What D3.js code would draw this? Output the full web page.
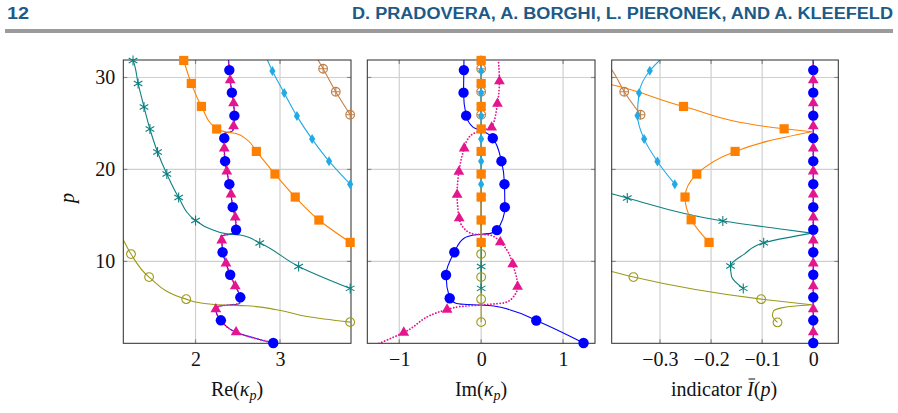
<!DOCTYPE html>
<html>
<head>
<meta charset="utf-8">
<script src="https://cdn.jsdelivr.net/npm/d3@7"></script>
<style>
  body { margin: 0; background: #fff; }
  svg { display: block; }
</style>
</head>
<body>
<div id="chart"></div>
<script>
// Each knot is [p, value, flag]; flag 1 = marker drawn here, flag 2 = cusp (line split)
const pDomain = [1.1, 31.9];
const pTicks = [10, 20, 30];

// ---- Re(kappa_p) ----
const reBlue = [[1.13,2.92,1],[2.3,2.48],[3.6,2.30,1],[4.8,2.24],[5.15,2.28],[5.3,2.45],[5.45,2.52],[6.1,2.53,1],[7.3,2.47],[8.55,2.41,1],[9.8,2.36],[11.0,2.32,1],[12.3,2.31],[12.75,2.30],[12.95,2.40],[13.1,2.46],[13.45,2.48,1],[14.8,2.47],[15.9,2.44,1],[17.3,2.42],[18.4,2.40,1],[19.8,2.37],[20.9,2.35,1],[22.3,2.34],[23.4,2.34,1],[23.95,2.35],[24.05,2.40],[24.2,2.44],[24.7,2.45],[25.85,2.46,1],[27.2,2.45],[28.35,2.43,1],[29.7,2.41],[30.8,2.40,1],[31.9,2.39]];
const reMagenta = [[1.13,2.92],[2.3,2.48,1],[3.6,2.30],[4.8,2.24,1],[5.15,2.28],[5.3,2.45],[5.45,2.52],[6.1,2.53],[7.3,2.47,1],[8.55,2.41],[9.8,2.36,1],[11.0,2.32],[12.3,2.31,1],[12.75,2.30],[12.95,2.40],[13.1,2.46],[13.45,2.48],[14.8,2.47,1],[15.9,2.44],[17.3,2.42,1],[18.4,2.40],[19.8,2.37,1],[20.9,2.35],[22.3,2.34,1],[23.4,2.34],[23.95,2.35],[24.05,2.40],[24.2,2.44],[24.7,2.45,1],[25.85,2.46],[27.2,2.45,1],[28.35,2.43],[29.7,2.41,1],[30.8,2.40],[31.9,2.39]];
const reOlive = [[3.4,3.83,1],[4.02,3.32],[4.75,2.96],[5.18,2.60],[5.26,2.33],[5.5,2.05],[5.9,1.89,1],[8.3,1.45,1],[10.8,1.236,1],[12.25,1.15],[13.0,1.10]];
const reTeal = [[7.07,3.83,1],[9.46,3.22,1],[12.0,2.76,1],[12.87,2.53],[13.0,2.37],[13.55,2.17],[14.46,2.0,1],[16.96,1.80,1],[19.5,1.66,1],[21.9,1.55,1],[24.4,1.46,1],[26.8,1.39,1],[29.35,1.32,1],[31.85,1.26,1],[31.95,1.25]];
const reBrown = [[25.95,3.83,1],[28.45,3.66,1],[30.95,3.51,1],[31.9,3.45]];
const reOrange = [[12.07,3.83,1],[14.5,3.46,1],[17.0,3.18,1],[19.5,2.94,1],[21.96,2.72,1],[23.3,2.60],[23.9,2.48],[24.05,2.38],[24.4,2.25,1],[26.85,2.07,1],[29.35,1.95,1],[31.85,1.86,1]];
const reCyan = [[18.4,3.83,1],[20.9,3.58,1],[23.3,3.38,1],[25.8,3.20,1],[28.3,3.05,1],[30.7,2.91,1],[31.9,2.85]];

// ---- Im(kappa_p) ----
const imBlue = [[1.13,1.25,1],[3.58,0.673,1],[4.72,0.356],[5.15,0.153],[5.26,-0.01],[5.34,-0.213],[5.49,-0.315],[6.0,-0.384,1],[8.53,-0.429,1],[11.0,-0.327,1],[12.5,-0.213],[12.87,-0.09],[13.05,0.112],[13.4,0.193,1],[15.9,0.289,1],[18.4,0.285,1],[20.9,0.248,1],[23.4,0.142,1],[24.1,0.04],[24.6,-0.1],[25.85,-0.183,1],[28.35,-0.215,1],[30.8,-0.211,1],[31.9,-0.21]];
const imMagenta = [[1.07,-1.25],[2.27,-0.945,1],[4.77,-0.416,1],[5.16,-0.173],[5.31,0.07],[5.49,0.275],[5.97,0.376],[7.25,0.445,1],[9.7,0.385,1],[11.24,0.315],[12.1,0.234,1],[12.87,0.112],[12.97,-0.09],[13.5,-0.2],[14.7,-0.268,1],[17.25,-0.293,1],[19.75,-0.272,1],[22.3,-0.207,1],[23.1,-0.176],[23.9,-0.094],[24.3,0.03],[24.58,0.128,1],[27.15,0.199,1],[29.6,0.223,1],[31.9,0.21]];
const imOlive = [[3.4,0,1],[5.9,0,1],[8.3,0,1],[10.8,0,1],[31.9,0]];
const imTeal = [[7.07,0,1],[9.46,0,1],[12.0,0,1],[14.46,0,1],[16.96,0,1],[19.5,0,1],[21.9,0,1],[24.4,0,1],[26.8,0,1],[29.35,0,1],[31.85,0,1],[31.95,0]];
const imBrown = [[25.95,0,1],[28.45,0,1],[30.95,0,1],[31.9,0]];
const imOrange = [[12.07,0,1],[14.5,0,1],[17.0,0,1],[19.5,0,1],[21.96,0,1],[24.4,0,1],[26.85,0,1],[29.35,0,1],[31.85,0,1],[31.95,0]];
const imCyan = [[18.4,0,1],[20.9,0,1],[23.3,0,1],[25.8,0,1],[28.3,0,1],[30.7,0,1],[31.9,0]];

// ---- indicator I(p) ----
const indBlue = [[1.13,0,1],[3.6,0,1],[6.1,0,1],[8.55,0,1],[11.0,0,1],[13.45,0,1],[15.9,0,1],[18.4,0,1],[20.9,0,1],[23.4,0,1],[25.85,0,1],[28.35,0,1],[30.8,0,1],[31.9,0]];
const indMagenta = [[1.1,0],[2.3,0,1],[4.8,0,1],[7.3,0,1],[9.8,0,1],[12.3,0,1],[14.8,0,1],[17.3,0,1],[19.8,0,1],[22.3,0,1],[24.7,0,1],[27.2,0,1],[29.7,0,1],[31.9,0]];
const indOlive = [[3.37,-0.07,1],[3.7,-0.076],[4.1,-0.08],[4.6,-0.078],[4.95,-0.062],[5.15,-0.035],[5.29,-0.003,2],[5.45,-0.03],[5.9,-0.102,1],[8.3,-0.352,1],[8.9,-0.3945],[9.2,-0.42]];
const indTeal = [[7.07,-0.137,1],[8.37,-0.16],[9.5,-0.162,1],[10.8,-0.135],[12.03,-0.097,1],[12.7,-0.04],[13.08,-0.003,2],[13.5,-0.06],[14.4,-0.177,1],[16.9,-0.364,1],[17.36,-0.3945],[17.6,-0.41]];
const indBrown = [[25.95,-0.338,1],[28.45,-0.37,1],[30.84,-0.3945],[30.95,-0.396,1],[31.5,-0.41]];
const indOrange = [[12.07,-0.204,1],[14.53,-0.239,1],[17.0,-0.251,1],[19.5,-0.228,1],[21.96,-0.153,1],[23.05,-0.091],[24.1,-0.003,2],[24.42,-0.057,1],[26.85,-0.254,1],[29.2,-0.3945],[29.5,-0.42]];
const indCyan = [[18.4,-0.271,1],[20.87,-0.305,1],[23.3,-0.331,1],[25.84,-0.344,1],[28.3,-0.341,1],[30.73,-0.32,1],[31.9,-0.3]];

const reTicks = [2, 3];
const imTicks = [-1, 0, 1];
const indTicks = [-0.3, -0.2, -0.1, 0];

const headerLeft = "12";
const headerRight = "D. PRADOVERA, A. BORGHI, L. PIERONEK, AND A. KLEEFELD";

// series styles, in drawing order
const styles = [
  { key: "blue",    color: "#0000ff", mark: "circle" },
  { key: "magenta", color: "#e4168e", mark: "triangle", dash: "0.1 3" },
  { key: "olive",   color: "#9d9a1a", mark: "ocircle" },
  { key: "teal",    color: "#0f8080", mark: "asterisk" },
  { key: "brown",   color: "#c0804a", mark: "oplus" },
  { key: "orange",  color: "#ff8000", mark: "square" },
  { key: "cyan",    color: "#22aae6", mark: "diamond" }
];

const panels = [
  { x0: 123.3, x1: 351, domain: [1.145, 3.84], ticks: reTicks, fmt: d3.format("d"),
    series: { blue: reBlue, magenta: reMagenta, olive: reOlive, teal: reTeal, brown: reBrown, orange: reOrange, cyan: reCyan } },
  { x0: 367.3, x1: 595, domain: [-1.39, 1.39], ticks: imTicks, fmt: d3.format("d"),
    series: { blue: imBlue, magenta: imMagenta, olive: imOlive, teal: imTeal, brown: imBrown, orange: imOrange, cyan: imCyan } },
  { x0: 611.7, x1: 838.3, domain: [-0.3945, 0.049], ticks: indTicks, fmt: d => d === 0 ? "0" : d3.format(".1f")(d),
    series: { blue: indBlue, magenta: indMagenta, olive: indOlive, teal: indTeal, brown: indBrown, orange: indOrange, cyan: indCyan } }
];

const width = 898, height = 413;
const plotTop = 60, plotBottom = 343.3;
const serif = "'Liberation Serif', 'DejaVu Serif', serif";

const svg = d3.select("#chart").append("svg")
  .attr("width", width)
  .attr("height", height);

svg.append("rect").attr("width", width).attr("height", height).attr("fill", "#fff");

// running header
svg.append("text")
  .attr("x", 7).attr("y", 19)
  .attr("font-family", "'Liberation Sans', Arial, sans-serif")
  .attr("font-weight", "bold").attr("font-size", 16)
  .attr("fill", "#1d5a87")
  .attr("textLength", 22).attr("lengthAdjust", "spacingAndGlyphs")
  .text(headerLeft);
svg.append("text")
  .attr("x", 352).attr("y", 19)
  .attr("font-family", "'Liberation Sans', Arial, sans-serif")
  .attr("font-weight", "bold").attr("font-size", 16)
  .attr("fill", "#1d5a87")
  .attr("textLength", 541).attr("lengthAdjust", "spacingAndGlyphs")
  .text(headerRight);
svg.append("rect")
  .attr("x", 5).attr("y", 29).attr("width", 888).attr("height", 4)
  .attr("fill", "#9b9b9b");

const y = d3.scaleLinear().domain(pDomain).range([plotBottom, plotTop]);

function markPath(type) {
  switch (type) {
    case "circle": return d3.symbol(d3.symbolCircle, 85)();
    case "square": return "M-4.6,-4.6H4.6V4.6H-4.6Z";
    case "triangle": return "M0,-6.2L5.4,3.1L-5.4,3.1Z";
    case "diamond": return "M0,-5L3.1,0L0,5L-3.1,0Z";
    case "ocircle": return d3.symbol(d3.symbolCircle, 60)();
    case "oplus": return d3.symbol(d3.symbolCircle, 60)() + "M-4.4,0H4.4M0,-4.4V4.4";
    case "asterisk": {
      let s = "";
      [90, 30, 150].forEach(a => {
        const r = 5, t = a * Math.PI / 180;
        s += `M${-r * Math.cos(t)},${-r * Math.sin(t)}L${r * Math.cos(t)},${r * Math.sin(t)}`;
      });
      return s;
    }
  }
}

panels.forEach((panel, i) => {
  const x = d3.scaleLinear().domain(panel.domain).range([panel.x0, panel.x1]);
  const g = svg.append("g");
  const clipId = "clip" + i;
  svg.append("clipPath").attr("id", clipId)
    .append("rect")
    .attr("x", panel.x0).attr("y", plotTop)
    .attr("width", panel.x1 - panel.x0).attr("height", plotBottom - plotTop);

  // grid
  g.selectAll(".vgrid").data(panel.ticks).enter().append("line")
    .attr("x1", d => x(d)).attr("x2", d => x(d))
    .attr("y1", plotTop).attr("y2", plotBottom)
    .attr("stroke", "#cfcfcf").attr("stroke-width", 1.2);
  g.selectAll(".hgrid").data(pTicks).enter().append("line")
    .attr("x1", panel.x0).attr("x2", panel.x1)
    .attr("y1", d => y(d)).attr("y2", d => y(d))
    .attr("stroke", "#cfcfcf").attr("stroke-width", 1.2);

  // inner tick marks
  panel.ticks.forEach(t => {
    [[plotTop, plotTop + 4], [plotBottom, plotBottom - 4]].forEach(([a, b]) =>
      g.append("line").attr("x1", x(t)).attr("x2", x(t)).attr("y1", a).attr("y2", b)
        .attr("stroke", "#8a8a8a").attr("stroke-width", 1.2));
  });
  pTicks.forEach(t => {
    [[panel.x0, panel.x0 + 4], [panel.x1, panel.x1 - 4]].forEach(([a, b]) =>
      g.append("line").attr("y1", y(t)).attr("y2", y(t)).attr("x1", a).attr("x2", b)
        .attr("stroke", "#8a8a8a").attr("stroke-width", 1.2));
  });

  // lines (split at cusps)
  const line = d3.line()
    .x(d => x(d[1]))
    .y(d => y(d[0]))
    .curve(d3.curveMonotoneY);
  const lines = g.append("g").attr("clip-path", `url(#${clipId})`);
  styles.forEach(st => {
    const data = panel.series[st.key];
    const pieces = [];
    let cur = [];
    data.forEach(d => {
      cur.push(d);
      if (d[2] === 2) { pieces.push(cur); cur = [d]; }
    });
    pieces.push(cur);
    pieces.forEach(piece => {
      lines.append("path")
        .attr("d", line(piece))
        .attr("fill", "none")
        .attr("stroke", st.color)
        .attr("stroke-width", st.dash ? 1.8 : 1.1)
        .attr("stroke-dasharray", st.dash || null)
        .attr("stroke-linecap", st.dash ? "round" : "butt");
    });
  });

  // frame
  g.append("rect")
    .attr("x", panel.x0).attr("y", plotTop)
    .attr("width", panel.x1 - panel.x0).attr("height", plotBottom - plotTop)
    .attr("fill", "none").attr("stroke", "#2b2b2b").attr("stroke-width", 1);

  // markers (only those whose centre lies inside the axes)
  const [dx0, dx1] = panel.domain;
  styles.forEach(st => {
    const pts = panel.series[st.key].filter(d => d[2] === 1 && d[1] >= dx0 - 1e-6 && d[1] <= dx1 + 1e-6);
    const open = ["ocircle", "oplus", "asterisk"].includes(st.mark);
    g.selectAll(null).data(pts).enter().append("path")
      .attr("transform", d => `translate(${x(d[1])},${y(d[0])})`)
      .attr("d", markPath(st.mark))
      .attr("fill", open ? "none" : st.color)
      .attr("stroke", open ? st.color : "none")
      .attr("stroke-width", 1.1);
  });

  // x tick labels
  const axis = d3.axisBottom(x).tickValues(panel.ticks).tickFormat(panel.fmt).tickSize(0).tickPadding(0);
  const ax = svg.append("g").attr("transform", `translate(0,${plotBottom + 8})`).call(axis);
  ax.select(".domain").remove();
  ax.selectAll("text")
    .attr("font-family", serif).attr("font-size", 20).attr("fill", "#111")
    .attr("dy", "0.71em");

  // y tick labels only on the first panel
  if (i === 0) {
    const yAxis = d3.axisLeft(y).tickValues(pTicks).tickFormat(d3.format("d")).tickSize(0).tickPadding(8);
    const ay = svg.append("g").attr("transform", `translate(${panel.x0},0)`).call(yAxis);
    ay.select(".domain").remove();
    ay.selectAll("text").attr("font-family", serif).attr("font-size", 20).attr("fill", "#111");
  }
});

// axis titles
function label(cx, parts) {
  const t = svg.append("text")
    .attr("x", cx).attr("y", 396)
    .attr("text-anchor", "middle")
    .attr("font-family", serif).attr("font-size", 20).attr("fill", "#111");
  parts.forEach(p => {
    const s = t.append("tspan").text(p.t);
    if (p.it) s.attr("font-style", "italic");
    if (p.sub) s.attr("font-size", 14).attr("dy", 4);
    if (p.up) s.attr("dy", -4);
  });
  return t;
}
label(237, [{ t: "Re(" }, { t: "κ", it: 1 }, { t: "p", it: 1, sub: 1 }, { t: ")", up: 1 }]);
label(481, [{ t: "Im(" }, { t: "κ", it: 1 }, { t: "p", it: 1, sub: 1 }, { t: ")", up: 1 }]);
const indLabel = label(724, [{ t: "indicator " }, { t: "I", it: 1 }, { t: "(" }, { t: "p", it: 1 }, { t: ")" }]);

// overline over the I of the indicator label
const node = indLabel.node();
const iIdx = "indicator ".length;
const s0 = node.getStartPositionOfChar(iIdx);
const e0 = node.getEndPositionOfChar(iIdx);
svg.append("line")
  .attr("x1", s0.x + 1.5).attr("x2", e0.x + 1.5)
  .attr("y1", 379).attr("y2", 379)
  .attr("stroke", "#111").attr("stroke-width", 1);

// y title
svg.append("text")
  .attr("transform", "translate(74,198) rotate(-90)")
  .attr("text-anchor", "middle")
  .attr("font-family", serif).attr("font-size", 20).attr("font-style", "italic")
  .attr("fill", "#111")
  .text("p");
</script>
</body>
</html>
